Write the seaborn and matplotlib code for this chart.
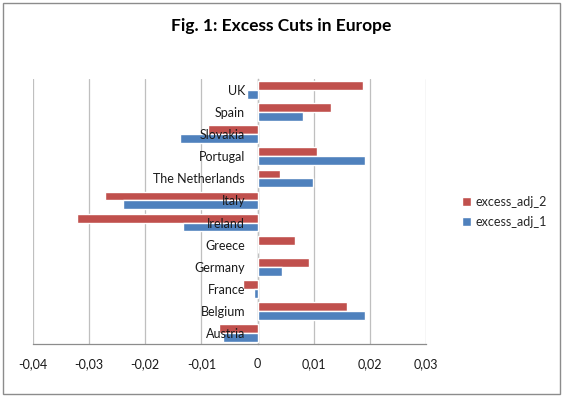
import matplotlib
matplotlib.use("Agg")
import matplotlib.pyplot as plt
import seaborn as sns
import pandas as pd
from matplotlib.patches import Rectangle
from matplotlib.ticker import FuncFormatter

countries = ["UK", "Spain", "Slovakia", "Portugal", "The Netherlands", "Italy",
             "Ireland", "Greece", "Germany", "France", "Belgium", "Austria"]
excess_adj_2 = [0.0187, 0.0131, -0.0088, 0.0106, 0.0040, -0.0272,
                -0.0321, 0.0066, 0.0092, -0.0026, 0.0160, -0.0068]
excess_adj_1 = [-0.0019, 0.0081, -0.0139, 0.0192, 0.0099, -0.0239,
                -0.0133, 0.0, 0.0043, -0.0007, 0.0191, -0.0061]
series_names = ["excess_adj_2", "excess_adj_1"]
colors = {"excess_adj_2": "#C0504D", "excess_adj_1": "#4F81BD"}

df = pd.DataFrame({
    "country": countries * 2,
    "value": excess_adj_2 + excess_adj_1,
    "series": ["excess_adj_2"] * len(countries) + ["excess_adj_1"] * len(countries),
})

sns.set_theme(style="white")
plt.rcParams["font.family"] = ["Lato", "DejaVu Sans"]

fig = plt.figure(figsize=(5.64, 3.97), dpi=100)
ax = fig.add_axes([33 / 564, 1 - 344 / 397, (426 - 33) / 564, (344 - 79) / 397])

sns.barplot(data=df, x="value", y="country", hue="series", order=countries,
            hue_order=series_names, palette=colors, orient="h", width=0.8,
            saturation=1, ax=ax, legend=True)

ax.set_xlim(-0.04, 0.03)
ax.set_xticks([-0.04, -0.03, -0.02, -0.01, 0, 0.01, 0.02, 0.03])
ax.xaxis.set_major_formatter(FuncFormatter(lambda v, p: "0" if abs(v) < 1e-9 else f"{v:.2f}".replace(".", ",")))
ax.grid(axis="x", color="#BFBFBF", linewidth=0.9)
ax.set_axisbelow(True)
ax.yaxis.set_zorder(5)
ax.set_xlabel("")
ax.set_ylabel("")

for s in ["top", "right"]:
    ax.spines[s].set_visible(False)
ax.spines["bottom"].set_color("#8C8C8C")
ax.spines["bottom"].set_linewidth(0.9)
ax.spines["left"].set_position(("data", 0))
ax.spines["left"].set_color("#8C8C8C")
ax.spines["left"].set_linewidth(0.9)
ax.spines["left"].set_zorder(0.5)

ax.tick_params(axis="y", length=0, pad=9, labelsize=9, labelcolor="#1a1a1a")
ax.tick_params(axis="x", length=0, pad=10, labelsize=9, labelcolor="#1a1a1a")

handles, labels = ax.get_legend_handles_labels()
ax.legend(handles, labels, loc="center left", bbox_to_anchor=(451 / 564, 1 - 212 / 397),
          bbox_transform=fig.transFigure, frameon=False, fontsize=9,
          handlelength=0.7, handleheight=0.7, handletextpad=0.4, labelspacing=0.6)

fig.text(281.5 / 564, 1 - 26 / 397, "Fig. 1: Excess Cuts in Europe", ha="center", va="center",
         fontsize=12.5, fontweight="bold", color="#000000")

fig.patches.append(Rectangle((3 / 564, 3 / 397), 557 / 564, 391 / 397, transform=fig.transFigure,
                             fill=False, edgecolor="#8C8C8C", linewidth=1.0))

fig.savefig("out.png", dpi=100, facecolor="white")
